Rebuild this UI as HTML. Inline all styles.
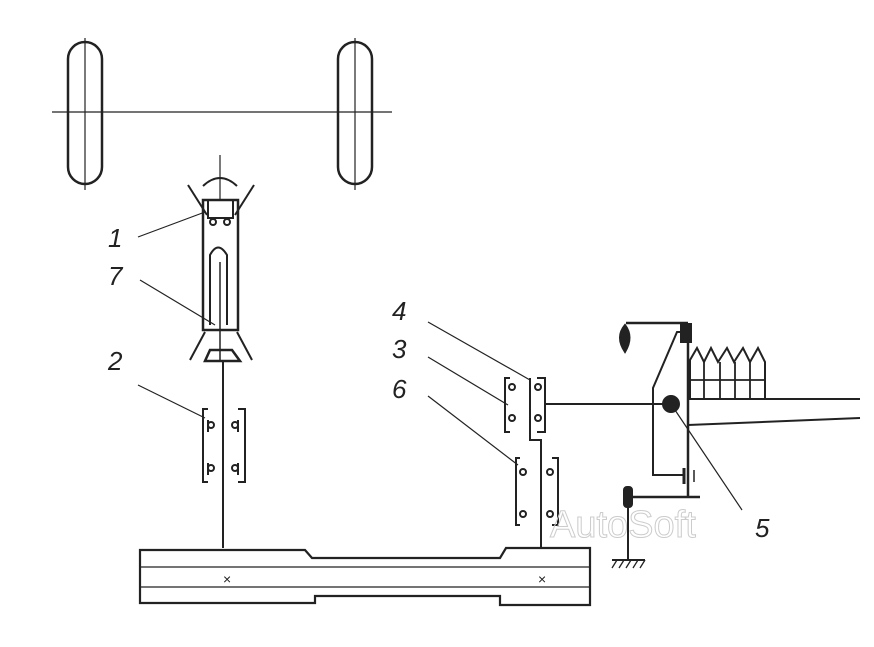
<!DOCTYPE html>
<html><head><style>body{margin:0;background:#fff}svg{display:block}</style></head><body>
<svg width="874" height="647" viewBox="0 0 874 647" xmlns="http://www.w3.org/2000/svg" fill="none" stroke="#222" stroke-width="2" font-family="Liberation Sans, sans-serif">
<!-- wheels -->
<rect x="68" y="42" width="34" height="142" rx="17" stroke-width="2.5"/>
<rect x="338" y="42" width="34" height="142" rx="17" stroke-width="2.5"/>
<line x1="52" y1="112" x2="392" y2="112" stroke-width="1.2"/>
<line x1="85" y1="38" x2="85" y2="190" stroke-width="1.2"/>
<line x1="355" y1="38" x2="355" y2="190" stroke-width="1.2"/>
<!-- steering column -->
<line x1="220" y1="155" x2="220" y2="200" stroke-width="1.2"/>
<path d="M203 186 Q220 170 237 186" stroke-width="2"/>
<line x1="188" y1="185" x2="207" y2="215"/>
<line x1="254" y1="185" x2="235" y2="215"/>
<rect x="203" y="200" width="35" height="130" stroke-width="2.5"/>
<rect x="208" y="200" width="25" height="18"/>
<circle cx="213" cy="222" r="3"/><circle cx="227" cy="222" r="3"/>
<path d="M210 325 V255 Q218 240 227 255 V325"/>
<line x1="220" y1="262" x2="220" y2="360" stroke-width="1.5"/>
<line x1="205" y1="332" x2="190" y2="360"/>
<line x1="237" y1="332" x2="252" y2="360"/>
<path d="M210 350 L232 350 L240 361 L205 361 Z" stroke-width="2.5"/>
<line x1="223" y1="361" x2="223" y2="548" stroke-width="2"/>
<!-- box 2 -->
<path d="M208 409 H203 V482 H208" /><path d="M238 409 H245 V482 H238"/>
<circle cx="211" cy="425" r="3"/><line x1="208" y1="420" x2="208" y2="432"/>
<circle cx="235" cy="425" r="3"/><line x1="238" y1="420" x2="238" y2="432"/>
<circle cx="211" cy="468" r="3"/><line x1="208" y1="463" x2="208" y2="475"/>
<circle cx="235" cy="468" r="3"/><line x1="238" y1="463" x2="238" y2="475"/>
<!-- beam -->
<path d="M140 550 H305 L312 558 H500 L506 548 H590 V605 H500 V596 H315 V603 H140 Z" stroke-width="2.2"/>
<line x1="140" y1="567" x2="590" y2="567" stroke-width="1.3"/>
<line x1="140" y1="587" x2="590" y2="587" stroke-width="1.3"/>
<text x="223" y="584" font-size="14" fill="#222" stroke="none">×</text>
<text x="538" y="584" font-size="14" fill="#222" stroke="none">×</text>
<!-- right column -->
<path d="M541 548 V440 H530 V378" stroke-width="2"/>
<path d="M510 378 H505 V432 H510"/><path d="M537 378 H545 V432 H537"/>
<circle cx="512" cy="387" r="3"/><circle cx="538" cy="387" r="3"/>
<circle cx="512" cy="418" r="3"/><circle cx="538" cy="418" r="3"/>
<path d="M520 458 H516 V525 H520"/><path d="M552 458 H558 V525 H552"/>
<circle cx="523" cy="472" r="3"/><circle cx="550" cy="472" r="3"/>
<circle cx="523" cy="514" r="3"/><circle cx="550" cy="514" r="3"/>
<line x1="545" y1="404" x2="665" y2="404"/>
<circle cx="671" cy="404" r="8" fill="#222"/>
<!-- lever -->
<line x1="688" y1="330" x2="688" y2="497" stroke-width="2.5"/>
<path d="M685 332 H677 L653 388 V475 H684" stroke-width="2"/>
<line x1="684" y1="468" x2="684" y2="484" stroke-width="3"/>
<line x1="694" y1="470" x2="694" y2="482" stroke-width="1.5"/>
<rect x="681" y="324" width="10" height="18" fill="#222"/>
<line x1="626" y1="323" x2="688" y2="323" stroke-width="2.5"/>
<path d="M625 325 Q615 337 625 352 Q634 337 625 325 Z" fill="#222"/>
<path d="M690 398 V360 L697 348 L704 362 L711 348 L718 362 L727 348 L734 362 L743 348 L750 362 L758 348 L765 362 V398" stroke-width="2"/>
<path d="M690 380 H765 M704 362 V398 M720 362 V398 M735 362 V398 M750 362 V398" stroke-width="1.8"/>
<line x1="688" y1="399" x2="860" y2="399"/>
<line x1="688" y1="425" x2="860" y2="418"/>
<line x1="628" y1="497" x2="700" y2="497" stroke-width="2.5"/>
<line x1="628" y1="490" x2="628" y2="560"/>
<rect x="624" y="487" width="8" height="20" rx="3" fill="#222"/>
<line x1="612" y1="560" x2="645" y2="560"/>
<path d="M612 568 L617 560 M619 568 L624 560 M626 568 L631 560 M633 568 L638 560 M640 568 L645 560" stroke-width="1.3"/>
<!-- leaders -->
<g stroke-width="1.2">
<line x1="138" y1="237" x2="205" y2="212"/>
<line x1="140" y1="280" x2="215" y2="325"/>
<line x1="138" y1="385" x2="205" y2="418"/>
<line x1="428" y1="322" x2="530" y2="380"/>
<line x1="428" y1="357" x2="508" y2="405"/>
<line x1="428" y1="396" x2="518" y2="465"/>
<line x1="675" y1="410" x2="742" y2="510"/>
</g>
<g fill="#222" stroke="none" font-size="26" font-style="italic">
<text x="108" y="247">1</text><text x="108" y="285">7</text><text x="108" y="370">2</text>
<text x="392" y="320">4</text><text x="392" y="358">3</text><text x="392" y="398">6</text>
<text x="755" y="537">5</text>
</g>
<text x="550" y="537" font-size="38" fill="none" stroke="#ccc" stroke-width="1">AutoSoft</text>
</svg>
</body></html>
